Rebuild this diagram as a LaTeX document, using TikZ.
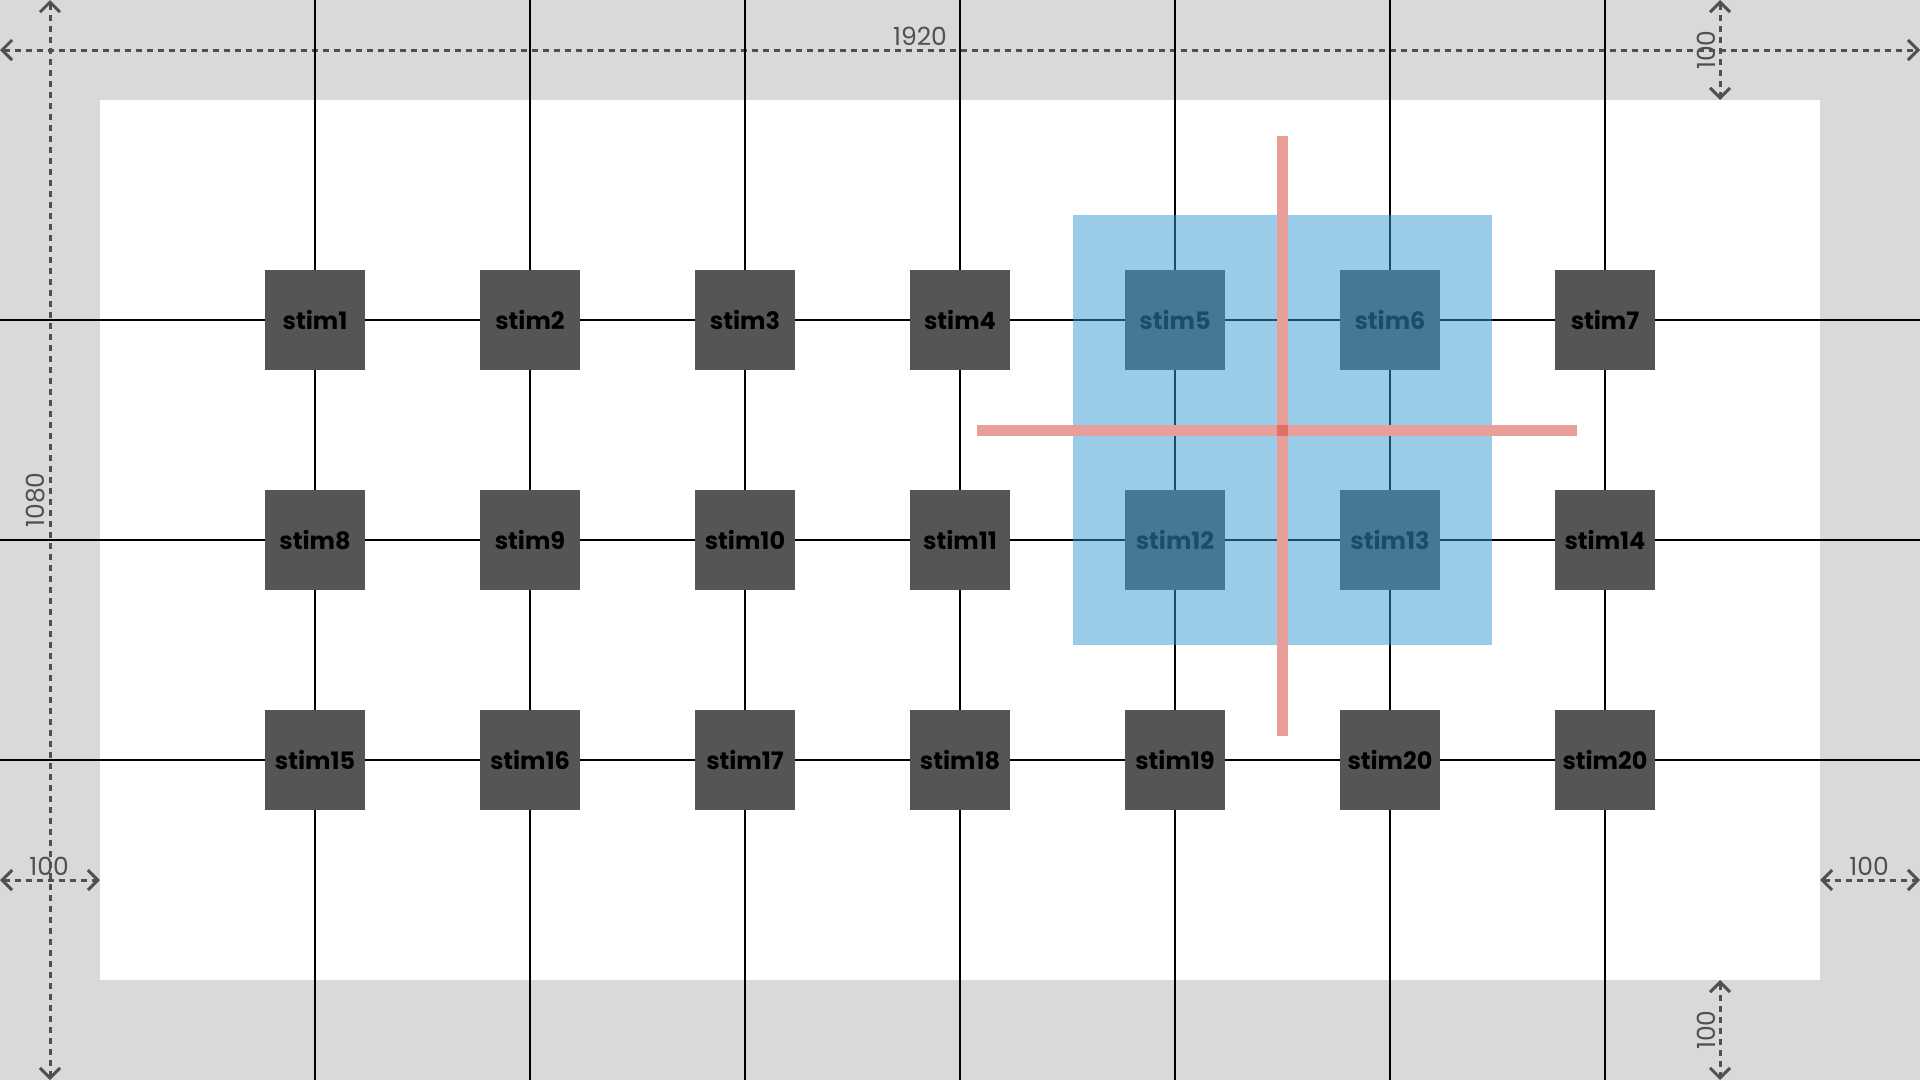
\documentclass[tikz,border=0pt]{standalone}
\usepackage{fontspec}
\setmainfont{Poppins}
\usetikzlibrary{arrows.meta}
\definecolor{bggray}{HTML}{D9D9D9}
\definecolor{boxgray}{HTML}{555555}
\definecolor{dimgray}{HTML}{505050}
\definecolor{selblue}{RGB}{53,155,211}
\definecolor{crosspink}{HTML}{E99E9A}
\definecolor{crossdark}{HTML}{DF6F69}
\begin{document}
\begin{tikzpicture}[x=1pt,y=-1pt,
  stimbox/.style={fill=boxgray, minimum size=100pt, inner sep=0pt, text=black,
    font=\fontsize{24}{28}\selectfont\bfseries},
  gridline/.style={line width=1.6pt, black},
  dimline/.style={dimgray, line width=3pt, dash pattern=on 6pt off 5pt,
    {Straight Barb[length=10pt,width=20pt]}-{Straight Barb[length=10pt,width=20pt]}},
  dimlabel/.style={text=dimgray, inner sep=0pt, font=\fontsize{25}{29}\selectfont},
  crossbar/.style={crosspink, line width=11pt}
]
% canvas
\fill[bggray] (0,0) rectangle (1920,1080);
\useasboundingbox (0,0) rectangle (1920,1080);
\fill[white] (100,100) rectangle (1820,980);

% dimension coordinates
\coordinate (dL) at (0,50);   \coordinate (dR) at (1920,50);
\coordinate (dT) at (50,0);   \coordinate (dB) at (50,1080);
\coordinate (trT) at (1720,0);   \coordinate (trB) at (1720,100);
\coordinate (brT) at (1720,980); \coordinate (brB) at (1720,1080);
\coordinate (blL) at (0,880);    \coordinate (blR) at (100,880);
\coordinate (rrL) at (1820,880); \coordinate (rrR) at (1920,880);

\draw[dimline] (dL) -- (dR);
\draw[dimline] (dT) -- (dB);
\draw[dimline] (trT) -- (trB);
\draw[dimline] (brT) -- (brB);
\draw[dimline] (blL) -- (blR);
\draw[dimline] (rrL) -- (rrR);

% stimulus nodes
\node[stimbox] (s1)  at (315,320)  {stim1};
\node[stimbox] (s2)  at (530,320)  {stim2};
\node[stimbox] (s3)  at (745,320)  {stim3};
\node[stimbox] (s4)  at (960,320)  {stim4};
\node[stimbox] (s5)  at (1175,320) {stim5};
\node[stimbox] (s6)  at (1390,320) {stim6};
\node[stimbox] (s7)  at (1605,320) {stim7};
\node[stimbox] (s8)  at (315,540)  {stim8};
\node[stimbox] (s9)  at (530,540)  {stim9};
\node[stimbox] (s10) at (745,540)  {stim10};
\node[stimbox] (s11) at (960,540)  {stim11};
\node[stimbox] (s12) at (1175,540) {stim12};
\node[stimbox] (s13) at (1390,540) {stim13};
\node[stimbox] (s14) at (1605,540) {stim14};
\node[stimbox] (s15) at (315,760)  {stim15};
\node[stimbox] (s16) at (530,760)  {stim16};
\node[stimbox] (s17) at (745,760)  {stim17};
\node[stimbox] (s18) at (960,760)  {stim18};
\node[stimbox] (s19) at (1175,760) {stim19};
\node[stimbox] (s20) at (1390,760) {stim20};
\node[stimbox] (s21) at (1605,760) {stim20};

% grid edge coordinates
\foreach \r/\y in {1/320,2/540,3/760}{
  \coordinate (rowL\r) at (0,\y);
  \coordinate (rowR\r) at (1920,\y);
}
\foreach \c/\x in {1/315,2/530,3/745,4/960,5/1175,6/1390,7/1605}{
  \coordinate (colT\c) at (\x,0);
  \coordinate (colB\c) at (\x,1080);
}

% grid lines
\draw[gridline] (rowL1) -- (s1) -- (s2) -- (s3) -- (s4) -- (s5) -- (s6) -- (s7) -- (rowR1);
\draw[gridline] (rowL2) -- (s8) -- (s9) -- (s10) -- (s11) -- (s12) -- (s13) -- (s14) -- (rowR2);
\draw[gridline] (rowL3) -- (s15) -- (s16) -- (s17) -- (s18) -- (s19) -- (s20) -- (s21) -- (rowR3);
\draw[gridline] (colT1) -- (s1) -- (s8) -- (s15) -- (colB1);
\draw[gridline] (colT2) -- (s2) -- (s9) -- (s16) -- (colB2);
\draw[gridline] (colT3) -- (s3) -- (s10) -- (s17) -- (colB3);
\draw[gridline] (colT4) -- (s4) -- (s11) -- (s18) -- (colB4);
\draw[gridline] (colT5) -- (s5) -- (s12) -- (s19) -- (colB5);
\draw[gridline] (colT6) -- (s6) -- (s13) -- (s20) -- (colB6);
\draw[gridline] (colT7) -- (s7) -- (s14) -- (s21) -- (colB7);

% selection overlay
\fill[selblue, fill opacity=0.5] (1073,215) rectangle (1492,645);

% crosshair
\coordinate (cxT) at (1282.5,136);  \coordinate (cxB) at (1282.5,736);
\coordinate (cxL) at (977,430);     \coordinate (cxR) at (1577,430);
\draw[crossbar] (cxT) -- (cxB);
\draw[crossbar] (cxL) -- (cxR);
\fill[crossdark] (1277,424.5) rectangle (1288,435.5);

% dimension labels
\node[dimlabel] (l1920) at (920,36) {1920};
\node[dimlabel, rotate=90] (l1080) at (36,500) {1080};
\node[dimlabel, rotate=90] (ltr) at (1706,50) {100};
\node[dimlabel, rotate=90] (lbr) at (1706,1030) {100};
\node[dimlabel] (lbl) at (49,866) {100};
\node[dimlabel] (lrr) at (1869,866) {100};
\end{tikzpicture}
\end{document}
